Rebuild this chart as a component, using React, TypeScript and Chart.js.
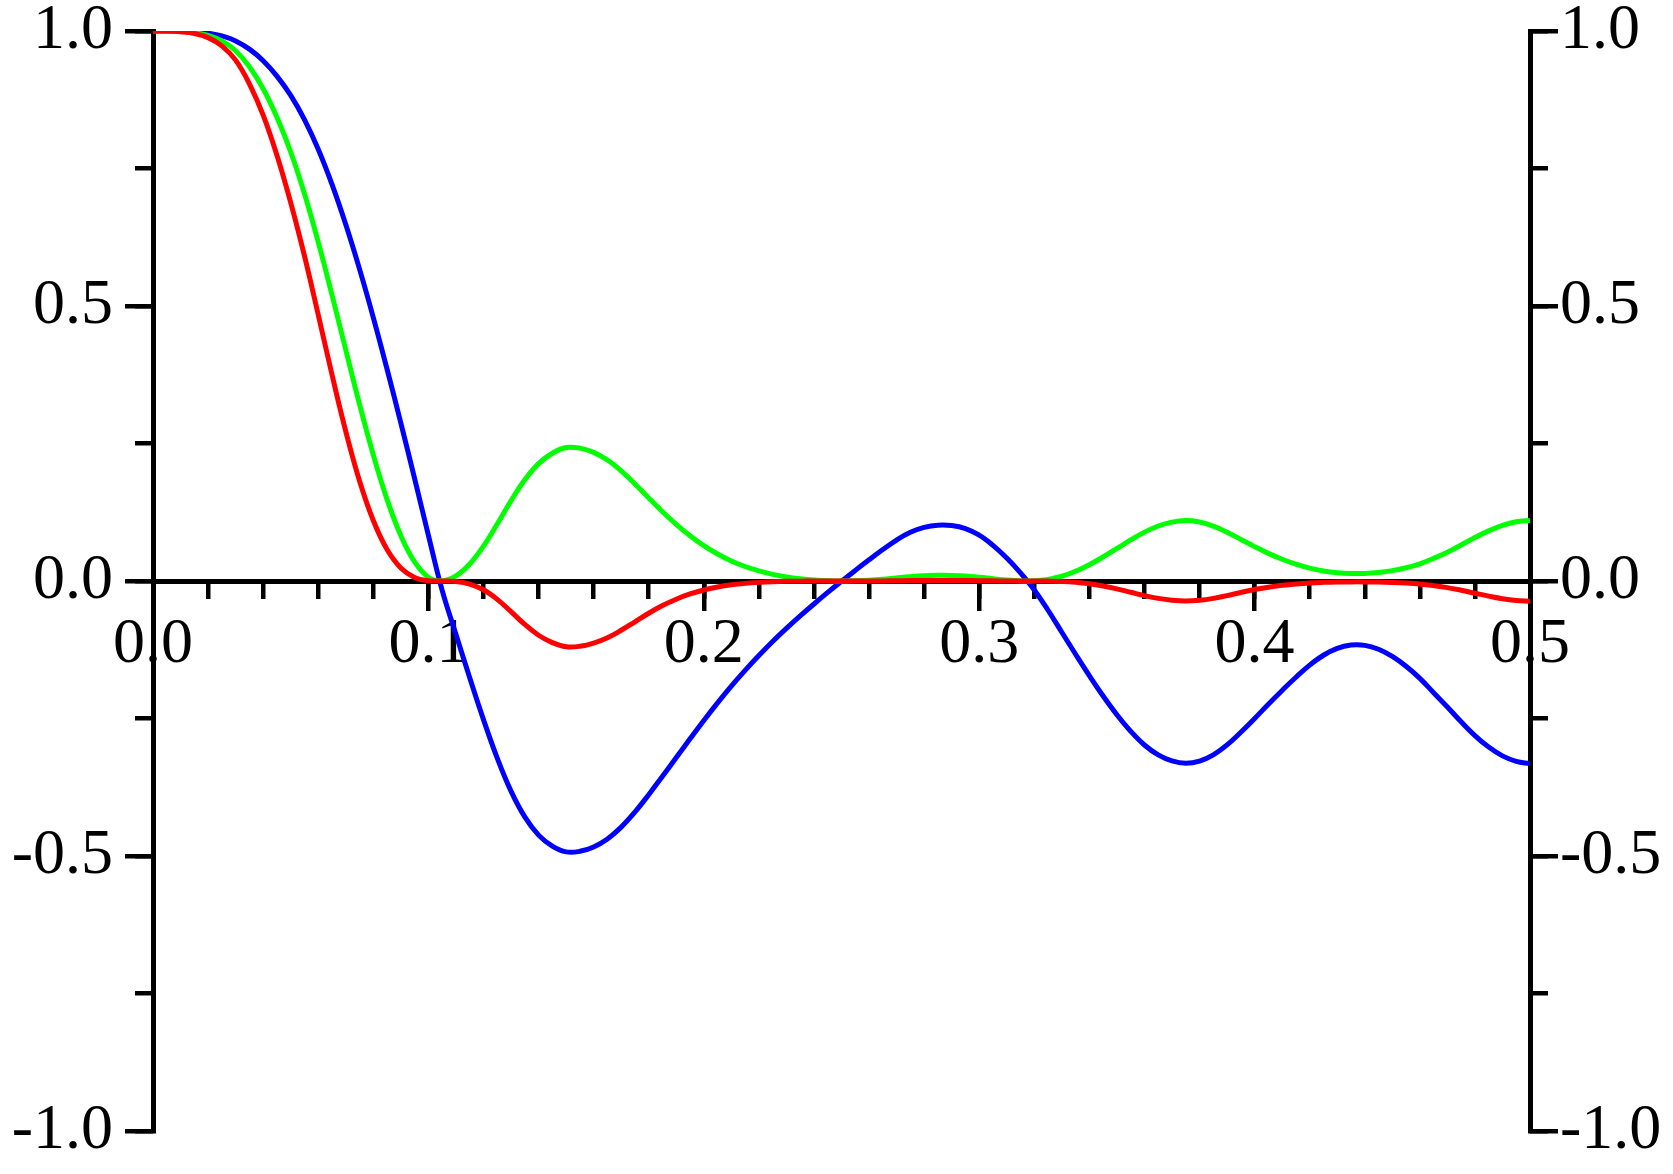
import React, { useEffect, useRef } from "react";
import { Chart, registerables } from "chart.js";

Chart.register(...registerables);

const xValues = [
  0.0, 0.005, 0.01, 0.015, 0.02, 0.025, 0.03, 0.035, 0.04, 0.045,
  0.05, 0.055, 0.06, 0.065, 0.07, 0.075, 0.08, 0.085, 0.09, 0.095,
  0.1, 0.105, 0.11, 0.115, 0.12, 0.125, 0.13, 0.135, 0.14, 0.145,
  0.15, 0.155, 0.16, 0.165, 0.17, 0.175, 0.18, 0.185, 0.19, 0.195,
  0.2, 0.205, 0.21, 0.215, 0.22, 0.225, 0.23, 0.235, 0.24, 0.245,
  0.25, 0.255, 0.26, 0.265, 0.27, 0.275, 0.28, 0.285, 0.29, 0.295,
  0.3, 0.305, 0.31, 0.315, 0.32, 0.325, 0.33, 0.335, 0.34, 0.345,
  0.35, 0.355, 0.36, 0.365, 0.37, 0.375, 0.38, 0.385, 0.39, 0.395,
  0.4, 0.405, 0.41, 0.415, 0.42, 0.425, 0.43, 0.435, 0.44, 0.445,
  0.45, 0.455, 0.46, 0.465, 0.47, 0.475, 0.48, 0.485, 0.49, 0.495,
  0.5,
];

const blueValues = [
  1.0, 1.0, 0.9995, 0.9985, 0.996, 0.991, 0.982, 0.967, 0.946, 0.918,
  0.883, 0.839, 0.785, 0.721, 0.648, 0.567, 0.479, 0.385, 0.287, 0.186,
  0.083, -0.017, -0.097, -0.176, -0.252, -0.322, -0.382, -0.429, -0.462, -0.482,
  -0.4925, -0.4915, -0.4835, -0.469, -0.4475, -0.42, -0.3885, -0.355, -0.321, -0.287,
  -0.2535, -0.2215, -0.191, -0.1625, -0.1355, -0.11, -0.0862, -0.0635, -0.0418, -0.0208,
  -0.0005, 0.0192, 0.0385, 0.0572, 0.0745, 0.0885, 0.0975, 0.1015, 0.1008, 0.0953,
  0.0833, 0.0648, 0.0418, 0.0148, -0.0162, -0.0532, -0.0932, -0.1332, -0.1722, -0.2092,
  -0.2432, -0.2732, -0.2982, -0.3162, -0.3272, -0.3315, -0.3275, -0.316, -0.298, -0.275,
  -0.25, -0.224, -0.199, -0.175, -0.153, -0.135, -0.1225, -0.1165, -0.117, -0.124,
  -0.137, -0.155, -0.177, -0.203, -0.229, -0.256, -0.281, -0.302, -0.318, -0.328,
  -0.332,
];

const greenValues = [
  1.0, 1.0, 0.999, 0.997, 0.992, 0.982, 0.964, 0.935, 0.895, 0.843,
  0.78, 0.704, 0.616, 0.52, 0.42, 0.321, 0.229, 0.148, 0.0824, 0.0346,
  0.0069, 0.0003, 0.0094, 0.031, 0.0635, 0.1037, 0.1459, 0.184, 0.2134, 0.2323,
  0.2426, 0.2416, 0.2338, 0.22, 0.2003, 0.1764, 0.1509, 0.126, 0.103, 0.0824,
  0.0643, 0.0491, 0.0365, 0.0264, 0.0184, 0.0121, 0.0074, 0.004, 0.0017, 0.0004,
  0.0, 0.0004, 0.0015, 0.0033, 0.0056, 0.0078, 0.0095, 0.0103, 0.0102, 0.0091,
  0.0069, 0.0042, 0.0017, 0.0002, 0.0003, 0.0028, 0.0087, 0.0177, 0.0297, 0.0438,
  0.0591, 0.0746, 0.0889, 0.1, 0.1071, 0.1099, 0.1073, 0.0999, 0.0888, 0.0756,
  0.0625, 0.0502, 0.0396, 0.0306, 0.0234, 0.0182, 0.015, 0.0136, 0.0137, 0.0154,
  0.0188, 0.024, 0.0313, 0.0412, 0.0524, 0.0655, 0.079, 0.0912, 0.1011, 0.1076,
  0.1102,
];

const redValues = [
  1.0, 1.0, 0.9985, 0.9955, 0.988, 0.973, 0.947, 0.904, 0.847, 0.774,
  0.688, 0.591, 0.484, 0.375, 0.272, 0.182, 0.11, 0.0571, 0.0236, 0.0064,
  0.0006, 0.0, -0.0009, -0.0055, -0.016, -0.0334, -0.0557, -0.079, -0.0986, -0.112,
  -0.1195, -0.1187, -0.113, -0.1032, -0.0896, -0.0741, -0.0586, -0.0447, -0.0331, -0.0236,
  -0.0163, -0.0109, -0.007, -0.0043, -0.0025, -0.0013, -0.0006, -0.0003, -0.0001, 0.0,
  0.0, 0.0, 0.0001, 0.0002, 0.0004, 0.0007, 0.0009, 0.001, 0.001, 0.0009,
  0.0006, 0.0003, 0.0001, 0.0, 0.0, -0.0002, -0.0008, -0.0024, -0.0051, -0.0092,
  -0.0144, -0.0204, -0.0265, -0.0316, -0.035, -0.0364, -0.0351, -0.0316, -0.0265, -0.0208,
  -0.0156, -0.0112, -0.0079, -0.0054, -0.0036, -0.0025, -0.0018, -0.0016, -0.0016, -0.0019,
  -0.0026, -0.0037, -0.0055, -0.0084, -0.012, -0.0168, -0.0222, -0.0275, -0.0322, -0.0353,
  -0.0366,
];

const xMajorTicks = [0, 0.1, 0.2, 0.3, 0.4, 0.5];
const xMinorTicks = [
  0, 0.02, 0.04, 0.06, 0.08, 0.1, 0.12, 0.14, 0.16, 0.18, 0.2, 0.22, 0.24,
  0.26, 0.28, 0.3, 0.32, 0.34, 0.36, 0.38, 0.4, 0.42, 0.44, 0.46, 0.48, 0.5,
];
const yMajorTicks = [-1, -0.5, 0, 0.5, 1];
const yMinorTicks = [-1, -0.75, -0.5, -0.25, 0, 0.25, 0.5, 0.75, 1];

const FONT = {
  family: "'Liberation Serif', 'Times New Roman', Times, serif",
  size: 64,
  lineHeight: 1,
};
const AXIS_W = 5;
const TICK_W = 4.5;
const CURVE_W = 5;

const fmt = (v: any) => Number(v).toFixed(1);
const setTicks = (arr: number[]) => (scale: any) => {
  scale.ticks = arr.map((v) => ({ value: v }));
};

export default function App() {
  const ref = useRef<HTMLCanvasElement>(null);

  useEffect(() => {
    const canvas = ref.current;
    if (!canvas) return;
    const mk = (vals: number[]) => xValues.map((x, i) => ({ x, y: vals[i] }));
    const lineStyle = {
      borderWidth: CURVE_W,
      pointRadius: 0,
      tension: 0.4,
      xAxisID: "x",
      yAxisID: "y",
    };
    const gridBase = {
      display: true,
      drawOnChartArea: false,
      drawTicks: true,
      tickWidth: TICK_W,
      lineWidth: TICK_W,
      tickColor: "#000",
    };

    const chart = new Chart(canvas, {
      type: "line",
      data: {
        datasets: [
          { label: "red", data: mk(redValues), borderColor: "#ff0000", ...lineStyle },
          { label: "green", data: mk(greenValues), borderColor: "#00ff00", ...lineStyle },
          { label: "blue", data: mk(blueValues), borderColor: "#0000ff", ...lineStyle },
        ],
      },
      options: {
        animation: false,
        responsive: false,
        devicePixelRatio: 1,
        events: [],
        layout: { padding: { left: 0, right: 0, top: 31, bottom: 43 } },
        plugins: { legend: { display: false }, tooltip: { enabled: false } },
        scales: {
          y: {
            type: "linear",
            position: "left",
            min: -1,
            max: 1,
            afterBuildTicks: setTicks(yMajorTicks),
            afterFit: (s: any) => {
              s.width = 153;
              s.paddingTop = 0;
              s.paddingBottom = 0;
            },
            grid: { ...gridBase, tickLength: 28 },
            border: { display: true, color: "#000", width: AXIS_W },
            ticks: { font: FONT, color: "#000", padding: 12, callback: fmt, autoSkip: false },
          },
          y2: {
            type: "linear",
            position: "right",
            min: -1,
            max: 1,
            afterBuildTicks: setTicks(yMajorTicks),
            afterFit: (s: any) => {
              s.width = 143;
              s.paddingTop = 0;
              s.paddingBottom = 0;
            },
            grid: { ...gridBase, tickLength: 28 },
            border: { display: true, color: "#000", width: AXIS_W },
            ticks: { font: FONT, color: "#000", padding: 2, callback: fmt, autoSkip: false },
          },
          yMinorL: {
            axis: "y",
            type: "linear",
            position: { x: 0 },
            min: -1,
            max: 1,
            afterBuildTicks: setTicks(yMinorTicks),
            afterFit: (s: any) => {
              s.width = 0;
              s.paddingTop = 0;
              s.paddingBottom = 0;
            },
            grid: { ...gridBase, tickLength: 18 },
            border: { display: false },
            ticks: { display: false },
          },
          yMinorR: {
            axis: "y",
            type: "linear",
            position: { x: 0.5 },
            min: -1,
            max: 1,
            afterBuildTicks: setTicks(yMinorTicks),
            afterFit: (s: any) => {
              s.width = 0;
              s.paddingTop = 0;
              s.paddingBottom = 0;
            },
            grid: { ...gridBase, tickLength: -18 },
            border: { display: false },
            ticks: { display: false },
          },
          x: {
            type: "linear",
            position: { y: 0 },
            min: 0,
            max: 0.5,
            afterBuildTicks: setTicks(xMajorTicks),
            afterFit: (s: any) => {
              s.height = 0;
              s.paddingLeft = 0;
              s.paddingRight = 0;
            },
            grid: { ...gridBase, tickLength: 27 },
            border: { display: true, color: "#000", width: AXIS_W },
            ticks: {
              font: FONT,
              color: "#000",
              padding: 5,
              callback: fmt,
              autoSkip: false,
              maxRotation: 0,
              minRotation: 0,
            },
          },
          xMinor: {
            axis: "x",
            type: "linear",
            position: { y: 0 },
            min: 0,
            max: 0.5,
            afterBuildTicks: setTicks(xMinorTicks),
            afterFit: (s: any) => {
              s.height = 0;
              s.paddingLeft = 0;
              s.paddingRight = 0;
            },
            grid: { ...gridBase, tickLength: 18 },
            border: { display: false },
            ticks: { display: false },
          },
        },
      } as any,
    });
    return () => chart.destroy();
  }, []);

  return (
    <div
      style={{
        position: "absolute",
        left: 0,
        top: 0,
        width: 1673,
        height: 1174,
        background: "#fff",
      }}
    >
      <canvas ref={ref} width={1673} height={1174} style={{ display: "block" }} />
    </div>
  );
}
